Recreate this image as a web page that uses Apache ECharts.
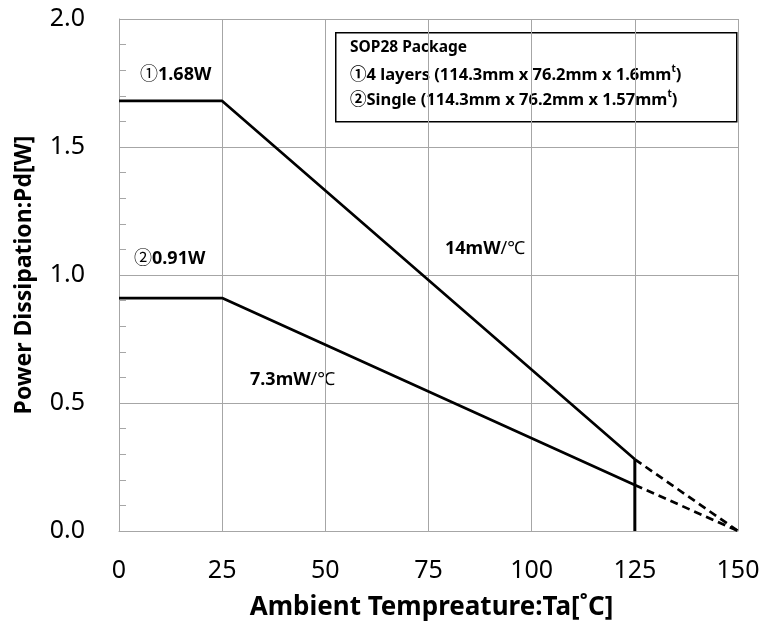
<!DOCTYPE html>
<html>
<head>
<meta charset="utf-8">
<script src="https://cdn.jsdelivr.net/npm/echarts@6/dist/echarts.min.js"></script>
<style>
  html, body { margin: 0; padding: 0; background: #fff; }
  #chart { width: 770px; height: 631px; }
</style>
</head>
<body>
<div id="chart"></div>
<script>
// derating curves
var taSolid = [0, 25, 125];
var pd4Layer = [1.68, 1.68, 0.28];
var pdSingle = [0.91, 0.91, 0.18];
var taDashed = [125, 150];
var pd4LayerDashed = [0.28, 0];
var pdSingleDashed = [0.18, 0];
var limitTa = [125, 125];
var limitPd = [0, 0.28];

var xTicks = [0, 25, 50, 75, 100, 125, 150];
var yTicks = [0, 0.5, 1.0, 1.5, 2.0];

function pairs(xs, ys) {
  var out = [];
  for (var i = 0; i < xs.length; i++) out.push([xs[i], ys[i]]);
  return out;
}

var font = '"Noto Sans", "Noto Sans CJK JP", sans-serif';
var gridColor = '#a6a6a6';

var solidStyle = { color: '#000', width: 2.7 };
var dashStyle = { color: '#000', width: 2.7, type: [8, 5] };

var chart = echarts.init(document.getElementById('chart'));
var option = {
  backgroundColor: '#fff',
  animation: false,
  grid: { left: 119, right: 32, top: 19, bottom: 100 },
  xAxis: {
    type: 'value',
    min: xTicks[0],
    max: xTicks[xTicks.length - 1],
    interval: 25,
    name: 'Ambient Tempreature:Ta[˚C]',
    nameLocation: 'middle',
    nameGap: 64,
    nameTextStyle: { fontFamily: font, fontSize: 26, fontWeight: 'bold', color: '#000', padding: [0, 0, 0, 6] },
    axisLine: { lineStyle: { color: gridColor, width: 1 } },
    axisTick: { show: false },
    axisLabel: { fontFamily: font, fontSize: 25, color: '#000', margin: 27 },
    splitLine: { show: true, lineStyle: { color: gridColor, width: 1 } }
  },
  yAxis: {
    type: 'value',
    min: yTicks[0],
    max: yTicks[yTicks.length - 1],
    interval: 0.5,
    name: 'Power Dissipation:Pd[W]',
    nameLocation: 'middle',
    nameGap: 83,
    nameTextStyle: { fontFamily: font, fontSize: 23, fontWeight: 'bold', color: '#000' },
    axisLine: { show: true, lineStyle: { color: gridColor, width: 1 } },
    axisTick: { show: true, inside: true, length: 7, lineStyle: { color: gridColor } },
    minorTick: { show: true, splitNumber: 5, length: 7, lineStyle: { color: gridColor } },
    axisLabel: {
      fontFamily: font, fontSize: 25, color: '#000', margin: 34,
      formatter: function (v) { return v.toFixed(1); }
    },
    splitLine: { show: true, lineStyle: { color: gridColor, width: 1 } }
  },
  series: [
    { type: 'line', data: pairs(taSolid, pd4Layer), symbol: 'none', lineStyle: solidStyle },
    { type: 'line', data: pairs(taSolid, pdSingle), symbol: 'none', lineStyle: solidStyle },
    { type: 'line', data: pairs(taDashed, pd4LayerDashed), symbol: 'none', lineStyle: dashStyle },
    { type: 'line', data: pairs(taDashed, pdSingleDashed), symbol: 'none', lineStyle: dashStyle },
    { type: 'line', data: pairs(limitTa, limitPd), symbol: 'none', lineStyle: { color: '#000', width: 3 } }
  ],
  graphic: [
    {
      type: 'rect', left: 335, top: 32,
      shape: { width: 401, height: 89 },
      style: { fill: '#fff', stroke: '#000', lineWidth: 1.5 }
    },
    {
      type: 'text', left: 350, top: 40,
      style: {
        text: 'SOP28 Package',
        fontFamily: font, fontSize: 15.5, fontWeight: 'bold', fill: '#000'
      }
    },
    {
      type: 'text', left: 350, top: 64,
      style: {
        text: '{a|①4 layers (114.3mm x 76.2mm x 1.6mm}{s|t}{a|)}',
        fontFamily: font, fill: '#000',
        rich: {
          a: { fontFamily: font, fontSize: 16.5, fontWeight: 'bold', color: '#000', lineHeight: 22 },
          s: { fontFamily: font, fontSize: 10, fontWeight: 'bold', color: '#000', verticalAlign: 'top', lineHeight: 22 }
        }
      }
    },
    {
      type: 'text', left: 350, top: 89,
      style: {
        text: '{a|②Single (114.3mm x 76.2mm x 1.57mm}{s|t}{a|)}',
        fontFamily: font, fill: '#000',
        rich: {
          a: { fontFamily: font, fontSize: 16.5, fontWeight: 'bold', color: '#000', lineHeight: 22 },
          s: { fontFamily: font, fontSize: 10, fontWeight: 'bold', color: '#000', verticalAlign: 'top', lineHeight: 22 }
        }
      }
    },
    {
      type: 'text', left: 140, top: 66,
      style: {
        text: '{c|①}{b|1.68W}',
        rich: {
          c: { fontFamily: font, fontSize: 18, color: '#000' },
          b: { fontFamily: font, fontSize: 18, fontWeight: 'bold', color: '#000' }
        }
      }
    },
    {
      type: 'text', left: 134, top: 250,
      style: {
        text: '{c|②}{b|0.91W}',
        rich: {
          c: { fontFamily: font, fontSize: 18, color: '#000' },
          b: { fontFamily: font, fontSize: 18, fontWeight: 'bold', color: '#000' }
        }
      }
    },
    {
      type: 'text', left: 445, top: 240,
      style: {
        text: '{b|14mW}{c|/℃}',
        rich: {
          b: { fontFamily: font, fontSize: 18, fontWeight: 'bold', color: '#000' },
          c: { fontFamily: font, fontSize: 18, color: '#000' }
        }
      }
    },
    {
      type: 'text', left: 250, top: 371,
      style: {
        text: '{b|7.3mW}{c|/℃}',
        rich: {
          b: { fontFamily: font, fontSize: 18, fontWeight: 'bold', color: '#000' },
          c: { fontFamily: font, fontSize: 18, color: '#000' }
        }
      }
    }
  ]
};
chart.setOption(option);
</script>
</body>
</html>
